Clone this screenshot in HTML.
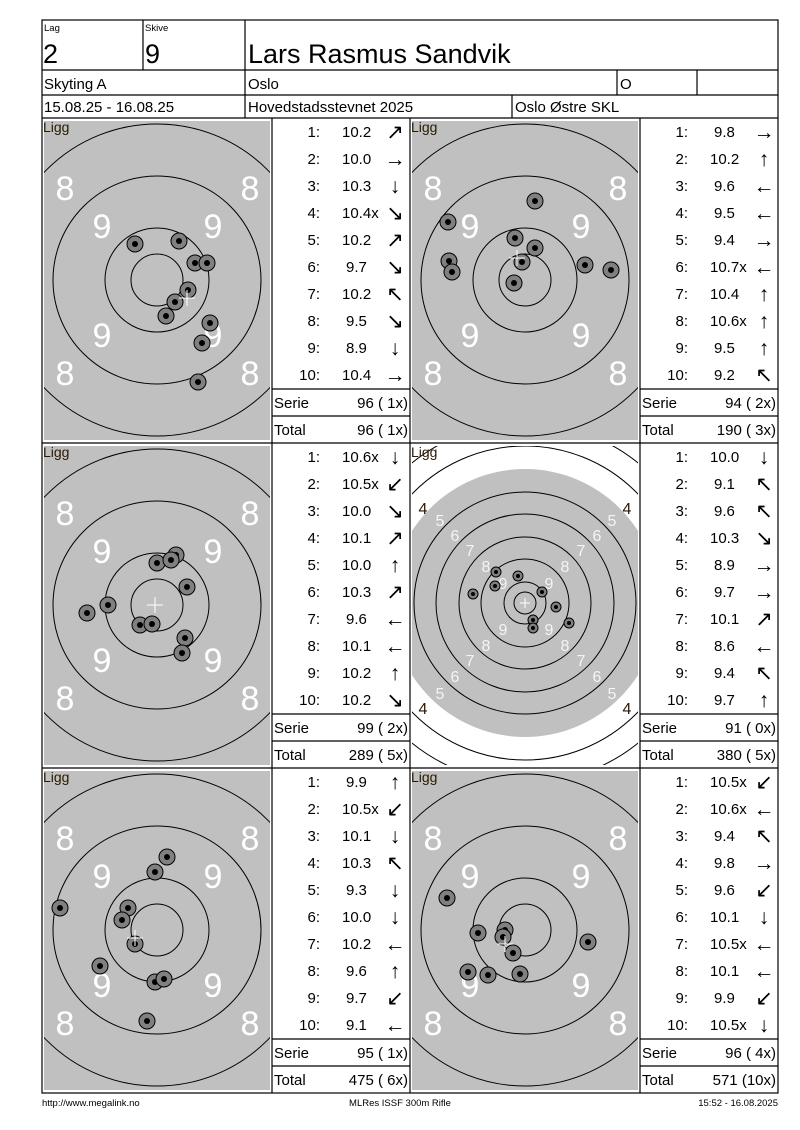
<!DOCTYPE html>
<html><head><meta charset="utf-8"><style>
html,body{margin:0;padding:0;background:#fff}
svg{display:block}
text{font-family:"Liberation Sans",Arial,sans-serif}
.ar{font-family:"DejaVu Sans",sans-serif;font-size:21px}
</style></head><body>
<svg width="800" height="1130" viewBox="0 0 800 1130" xmlns="http://www.w3.org/2000/svg">
<defs>
<clipPath id="cs"><rect x="2" y="3" width="226" height="319"/></clipPath>
<g id="shot"><circle r="8" fill="#808080" stroke="#000" stroke-width="1"/><circle r="3" fill="#000"/></g>
<g id="sshot"><circle r="5" fill="#808080" stroke="#000" stroke-width="1"/><circle r="2" fill="#000"/></g>
</defs>

<!-- header -->
<g stroke="#000" stroke-width="1.2" fill="none">
<rect x="42" y="20" width="736" height="1073"/>
<line x1="42" y1="70" x2="778" y2="70"/>
<line x1="42" y1="95" x2="778" y2="95"/>
<line x1="42" y1="118" x2="778" y2="118"/>
<line x1="143" y1="20" x2="143" y2="70"/>
<line x1="245" y1="20" x2="245" y2="118"/>
<line x1="617" y1="70" x2="617" y2="95"/>
<line x1="697" y1="70" x2="697" y2="95"/>
<line x1="512" y1="95" x2="512" y2="118"/>
<line x1="42" y1="443" x2="778" y2="443"/>
<line x1="42" y1="768" x2="778" y2="768"/>
<line x1="272" y1="118" x2="272" y2="1093"/>
<line x1="410" y1="118" x2="410" y2="1093"/>
<line x1="640" y1="118" x2="640" y2="1093"/>
</g>
<g font-size="9.5"><text x="44" y="31">Lag</text><text x="145" y="31">Skive</text></g>
<g font-size="27"><text x="43" y="63">2</text><text x="145" y="63">9</text><text x="248" y="63">Lars Rasmus Sandvik</text></g>
<g font-size="15"><text x="44" y="89">Skyting A</text><text x="248" y="89">Oslo</text><text x="620" y="89">O</text>
<text x="44" y="112">15.08.25 - 16.08.25</text><text x="248" y="112">Hovedstadsstevnet 2025</text><text x="515" y="112">Oslo Østre SKL</text></g>

<!-- Standard target panels -->
<g transform="translate(42,118)">
<rect x="2" y="3" width="226" height="319" fill="#c0c0c0"/>
<g clip-path="url(#cs)" fill="none" stroke="#000"><circle cx="115" cy="162" r="26"/><circle cx="115" cy="162" r="52"/><circle cx="115" cy="162" r="104"/><circle cx="115" cy="162" r="156"/></g>
<g fill="#fff" font-size="34" text-anchor="middle"><text x="23" y="82">8</text><text x="208" y="82">8</text><text x="60" y="120">9</text><text x="171" y="120">9</text><text x="60" y="229">9</text><text x="171" y="229">9</text><text x="23" y="267">8</text><text x="208" y="267">8</text></g>
<text x="1" y="14" font-size="14" fill="#2a1a00">Ligg</text>
</g>
<g transform="translate(410,118)">
<rect x="2" y="3" width="226" height="319" fill="#c0c0c0"/>
<g clip-path="url(#cs)" fill="none" stroke="#000"><circle cx="115" cy="162" r="26"/><circle cx="115" cy="162" r="52"/><circle cx="115" cy="162" r="104"/><circle cx="115" cy="162" r="156"/></g>
<g fill="#fff" font-size="34" text-anchor="middle"><text x="23" y="82">8</text><text x="208" y="82">8</text><text x="60" y="120">9</text><text x="171" y="120">9</text><text x="60" y="229">9</text><text x="171" y="229">9</text><text x="23" y="267">8</text><text x="208" y="267">8</text></g>
<text x="1" y="14" font-size="14" fill="#2a1a00">Ligg</text>
</g>
<g transform="translate(42,443)">
<rect x="2" y="3" width="226" height="319" fill="#c0c0c0"/>
<g clip-path="url(#cs)" fill="none" stroke="#000"><circle cx="115" cy="162" r="26"/><circle cx="115" cy="162" r="52"/><circle cx="115" cy="162" r="104"/><circle cx="115" cy="162" r="156"/></g>
<g fill="#fff" font-size="34" text-anchor="middle"><text x="23" y="82">8</text><text x="208" y="82">8</text><text x="60" y="120">9</text><text x="171" y="120">9</text><text x="60" y="229">9</text><text x="171" y="229">9</text><text x="23" y="267">8</text><text x="208" y="267">8</text></g>
<text x="1" y="14" font-size="14" fill="#2a1a00">Ligg</text>
</g>
<g transform="translate(42,768)">
<rect x="2" y="3" width="226" height="319" fill="#c0c0c0"/>
<g clip-path="url(#cs)" fill="none" stroke="#000"><circle cx="115" cy="162" r="26"/><circle cx="115" cy="162" r="52"/><circle cx="115" cy="162" r="104"/><circle cx="115" cy="162" r="156"/></g>
<g fill="#fff" font-size="34" text-anchor="middle"><text x="23" y="82">8</text><text x="208" y="82">8</text><text x="60" y="120">9</text><text x="171" y="120">9</text><text x="60" y="229">9</text><text x="171" y="229">9</text><text x="23" y="267">8</text><text x="208" y="267">8</text></g>
<text x="1" y="14" font-size="14" fill="#2a1a00">Ligg</text>
</g>
<g transform="translate(410,768)">
<rect x="2" y="3" width="226" height="319" fill="#c0c0c0"/>
<g clip-path="url(#cs)" fill="none" stroke="#000"><circle cx="115" cy="162" r="26"/><circle cx="115" cy="162" r="52"/><circle cx="115" cy="162" r="104"/><circle cx="115" cy="162" r="156"/></g>
<g fill="#fff" font-size="34" text-anchor="middle"><text x="23" y="82">8</text><text x="208" y="82">8</text><text x="60" y="120">9</text><text x="171" y="120">9</text><text x="60" y="229">9</text><text x="171" y="229">9</text><text x="23" y="267">8</text><text x="208" y="267">8</text></g>
<text x="1" y="14" font-size="14" fill="#2a1a00">Ligg</text>
</g>

<!-- Full target panel -->
<g transform="translate(410,443)">
<rect x="2" y="3" width="226" height="319" fill="#fff"/>
<g clip-path="url(#cs)">
<circle cx="115" cy="160" r="134" fill="#c0c0c0"/>
<g fill="none" stroke="#000"><circle cx="115" cy="160" r="11"/><circle cx="115" cy="160" r="21"/><circle cx="115" cy="160" r="44"/><circle cx="115" cy="160" r="66"/><circle cx="115" cy="160" r="89"/><circle cx="115" cy="160" r="111"/><circle cx="115" cy="160" r="157"/><circle cx="115" cy="160" r="180"/></g>
</g>
<g fill="#f4f4f4" font-size="16" text-anchor="middle">
<text x="30" y="83">5</text><text x="45" y="98">6</text><text x="60" y="113">7</text><text x="76" y="129">8</text><text x="93" y="146">9</text>
<text x="202" y="83">5</text><text x="187" y="98">6</text><text x="171" y="113">7</text><text x="155" y="129">8</text><text x="139" y="146">9</text>
<text x="93" y="192">9</text><text x="76" y="208">8</text><text x="60" y="223">7</text><text x="45" y="239">6</text><text x="30" y="256">5</text>
<text x="139" y="192">9</text><text x="155" y="208">8</text><text x="171" y="223">7</text><text x="187" y="239">6</text><text x="202" y="256">5</text>
</g>
<g fill="#2a1a00" font-size="16" text-anchor="middle"><text x="13" y="71">4</text><text x="217" y="71">4</text><text x="13" y="271">4</text><text x="217" y="271">4</text></g>
<text x="1" y="14" font-size="14" fill="#2a1a00">Ligg</text>
<g stroke="#fff"><line x1="110" y1="160" x2="120" y2="160"/><line x1="115" y1="155" x2="115" y2="165"/></g>
</g>

<!-- shots -->
<g>
<use href="#shot" x="135" y="244"/><use href="#shot" x="179" y="241"/><use href="#shot" x="195" y="263"/><use href="#shot" x="207" y="263"/><use href="#shot" x="188" y="290"/><use href="#shot" x="175" y="302"/><use href="#shot" x="166" y="316"/><use href="#shot" x="210" y="323"/><use href="#shot" x="202" y="343"/><use href="#shot" x="198" y="382"/>
<use href="#shot" x="535" y="201"/><use href="#shot" x="448" y="222"/><use href="#shot" x="515" y="238"/><use href="#shot" x="535" y="248"/><use href="#shot" x="449" y="261"/><use href="#shot" x="452" y="272"/><use href="#shot" x="522" y="262"/><use href="#shot" x="585" y="265"/><use href="#shot" x="611" y="270"/><use href="#shot" x="514" y="283"/>
<use href="#shot" x="176" y="555"/><use href="#shot" x="157" y="563"/><use href="#shot" x="171" y="560"/><use href="#shot" x="187" y="587"/><use href="#shot" x="108" y="605"/><use href="#shot" x="87" y="613"/><use href="#shot" x="140" y="625"/><use href="#shot" x="152" y="624"/><use href="#shot" x="185" y="638"/><use href="#shot" x="182" y="653"/>
<use href="#sshot" x="496" y="572"/><use href="#sshot" x="518" y="576"/><use href="#sshot" x="495" y="586"/><use href="#sshot" x="473" y="594"/><use href="#sshot" x="542" y="592"/><use href="#sshot" x="556" y="607"/><use href="#sshot" x="569" y="623"/><use href="#sshot" x="533" y="620"/><use href="#sshot" x="533" y="628"/>
<use href="#shot" x="167" y="857"/><use href="#shot" x="155" y="872"/><use href="#shot" x="60" y="908"/><use href="#shot" x="128" y="908"/><use href="#shot" x="122" y="920"/><use href="#shot" x="135" y="944"/><use href="#shot" x="100" y="966"/><use href="#shot" x="155" y="982"/><use href="#shot" x="164" y="979"/><use href="#shot" x="147" y="1021"/>
<use href="#shot" x="447" y="898"/><use href="#shot" x="505" y="930"/><use href="#shot" x="478" y="933"/><use href="#shot" x="503" y="937"/><use href="#shot" x="513" y="953"/><use href="#shot" x="588" y="942"/><use href="#shot" x="468" y="972"/><use href="#shot" x="488" y="975"/><use href="#shot" x="520" y="974"/>
</g>
<g stroke="#fff" stroke-width="1">
<line x1="179" y1="298" x2="195" y2="298"/><line x1="187" y1="290" x2="187" y2="306"/>
<line x1="509" y1="258" x2="525" y2="258"/><line x1="517" y1="250" x2="517" y2="266"/>
<line x1="147" y1="605" x2="163" y2="605"/><line x1="155" y1="597" x2="155" y2="613"/>
<line x1="127" y1="938" x2="143" y2="938"/><line x1="135" y1="930" x2="135" y2="946"/>
<line x1="497" y1="944" x2="513" y2="944"/><line x1="505" y1="936" x2="505" y2="952"/>
</g>

<!-- tables: lines -->
<g stroke="#000" stroke-width="1.2">
<line x1="272" y1="389" x2="410" y2="389"/><line x1="272" y1="416" x2="410" y2="416"/>
<line x1="640" y1="389" x2="778" y2="389"/><line x1="640" y1="416" x2="778" y2="416"/>
<line x1="272" y1="714" x2="410" y2="714"/><line x1="272" y1="741" x2="410" y2="741"/>
<line x1="640" y1="714" x2="778" y2="714"/><line x1="640" y1="741" x2="778" y2="741"/>
<line x1="272" y1="1039" x2="410" y2="1039"/><line x1="272" y1="1066" x2="410" y2="1066"/>
<line x1="640" y1="1039" x2="778" y2="1039"/><line x1="640" y1="1066" x2="778" y2="1066"/>
</g>

<!-- Table 1 -->
<g font-size="15" transform="translate(272,118)">
<g text-anchor="end"><text x="48" y="19">1:</text><text x="48" y="46">2:</text><text x="48" y="73">3:</text><text x="48" y="100">4:</text><text x="48" y="127">5:</text><text x="48" y="154">6:</text><text x="48" y="181">7:</text><text x="48" y="208">8:</text><text x="48" y="235">9:</text><text x="48" y="262">10:</text></g>
<text x="70" y="19">10.2</text><text x="70" y="46">10.0</text><text x="70" y="73">10.3</text><text x="70" y="100">10.4x</text><text x="70" y="127">10.2</text><text x="74" y="154">9.7</text><text x="70" y="181">10.2</text><text x="74" y="208">9.5</text><text x="74" y="235">8.9</text><text x="70" y="262">10.4</text>
<g class="ar" text-anchor="middle"><text x="123" y="21">↗</text><text x="123" y="48">→</text><text x="123" y="75">↓</text><text x="123" y="102">↘</text><text x="123" y="129">↗</text><text x="123" y="156">↘</text><text x="123" y="183">↖</text><text x="123" y="210">↘</text><text x="123" y="237">↓</text><text x="123" y="264">→</text></g>
<text x="2" y="290">Serie</text><text x="2" y="317">Total</text>
<g text-anchor="end"><text x="136" y="290">96 ( 1x)</text><text x="136" y="317">96 ( 1x)</text></g>
</g>
<!-- Table 2 -->
<g font-size="15" transform="translate(640,118)">
<g text-anchor="end"><text x="48" y="19">1:</text><text x="48" y="46">2:</text><text x="48" y="73">3:</text><text x="48" y="100">4:</text><text x="48" y="127">5:</text><text x="48" y="154">6:</text><text x="48" y="181">7:</text><text x="48" y="208">8:</text><text x="48" y="235">9:</text><text x="48" y="262">10:</text></g>
<text x="74" y="19">9.8</text><text x="70" y="46">10.2</text><text x="74" y="73">9.6</text><text x="74" y="100">9.5</text><text x="74" y="127">9.4</text><text x="70" y="154">10.7x</text><text x="70" y="181">10.4</text><text x="70" y="208">10.6x</text><text x="74" y="235">9.5</text><text x="74" y="262">9.2</text>
<g class="ar" text-anchor="middle"><text x="124" y="21">→</text><text x="124" y="48">↑</text><text x="124" y="75">←</text><text x="124" y="102">←</text><text x="124" y="129">→</text><text x="124" y="156">←</text><text x="124" y="183">↑</text><text x="124" y="210">↑</text><text x="124" y="237">↑</text><text x="124" y="264">↖</text></g>
<text x="2" y="290">Serie</text><text x="2" y="317">Total</text>
<g text-anchor="end"><text x="136" y="290">94 ( 2x)</text><text x="136" y="317">190 ( 3x)</text></g>
</g>
<!-- Table 3 -->
<g font-size="15" transform="translate(272,443)">
<g text-anchor="end"><text x="48" y="19">1:</text><text x="48" y="46">2:</text><text x="48" y="73">3:</text><text x="48" y="100">4:</text><text x="48" y="127">5:</text><text x="48" y="154">6:</text><text x="48" y="181">7:</text><text x="48" y="208">8:</text><text x="48" y="235">9:</text><text x="48" y="262">10:</text></g>
<text x="70" y="19">10.6x</text><text x="70" y="46">10.5x</text><text x="70" y="73">10.0</text><text x="70" y="100">10.1</text><text x="70" y="127">10.0</text><text x="70" y="154">10.3</text><text x="74" y="181">9.6</text><text x="70" y="208">10.1</text><text x="70" y="235">10.2</text><text x="70" y="262">10.2</text>
<g class="ar" text-anchor="middle"><text x="123" y="21">↓</text><text x="123" y="48">↙</text><text x="123" y="75">↘</text><text x="123" y="102">↗</text><text x="123" y="129">↑</text><text x="123" y="156">↗</text><text x="123" y="183">←</text><text x="123" y="210">←</text><text x="123" y="237">↑</text><text x="123" y="264">↘</text></g>
<text x="2" y="290">Serie</text><text x="2" y="317">Total</text>
<g text-anchor="end"><text x="136" y="290">99 ( 2x)</text><text x="136" y="317">289 ( 5x)</text></g>
</g>
<!-- Table 4 -->
<g font-size="15" transform="translate(640,443)">
<g text-anchor="end"><text x="48" y="19">1:</text><text x="48" y="46">2:</text><text x="48" y="73">3:</text><text x="48" y="100">4:</text><text x="48" y="127">5:</text><text x="48" y="154">6:</text><text x="48" y="181">7:</text><text x="48" y="208">8:</text><text x="48" y="235">9:</text><text x="48" y="262">10:</text></g>
<text x="70" y="19">10.0</text><text x="74" y="46">9.1</text><text x="74" y="73">9.6</text><text x="70" y="100">10.3</text><text x="74" y="127">8.9</text><text x="74" y="154">9.7</text><text x="70" y="181">10.1</text><text x="74" y="208">8.6</text><text x="74" y="235">9.4</text><text x="74" y="262">9.7</text>
<g class="ar" text-anchor="middle"><text x="124" y="21">↓</text><text x="124" y="48">↖</text><text x="124" y="75">↖</text><text x="124" y="102">↘</text><text x="124" y="129">→</text><text x="124" y="156">→</text><text x="124" y="183">↗</text><text x="124" y="210">←</text><text x="124" y="237">↖</text><text x="124" y="264">↑</text></g>
<text x="2" y="290">Serie</text><text x="2" y="317">Total</text>
<g text-anchor="end"><text x="136" y="290">91 ( 0x)</text><text x="136" y="317">380 ( 5x)</text></g>
</g>
<!-- Table 5 -->
<g font-size="15" transform="translate(272,768)">
<g text-anchor="end"><text x="48" y="19">1:</text><text x="48" y="46">2:</text><text x="48" y="73">3:</text><text x="48" y="100">4:</text><text x="48" y="127">5:</text><text x="48" y="154">6:</text><text x="48" y="181">7:</text><text x="48" y="208">8:</text><text x="48" y="235">9:</text><text x="48" y="262">10:</text></g>
<text x="74" y="19">9.9</text><text x="70" y="46">10.5x</text><text x="70" y="73">10.1</text><text x="70" y="100">10.3</text><text x="74" y="127">9.3</text><text x="70" y="154">10.0</text><text x="70" y="181">10.2</text><text x="74" y="208">9.6</text><text x="74" y="235">9.7</text><text x="74" y="262">9.1</text>
<g class="ar" text-anchor="middle"><text x="123" y="21">↑</text><text x="123" y="48">↙</text><text x="123" y="75">↓</text><text x="123" y="102">↖</text><text x="123" y="129">↓</text><text x="123" y="156">↓</text><text x="123" y="183">←</text><text x="123" y="210">↑</text><text x="123" y="237">↙</text><text x="123" y="264">←</text></g>
<text x="2" y="290">Serie</text><text x="2" y="317">Total</text>
<g text-anchor="end"><text x="136" y="290">95 ( 1x)</text><text x="136" y="317">475 ( 6x)</text></g>
</g>
<!-- Table 6 -->
<g font-size="15" transform="translate(640,768)">
<g text-anchor="end"><text x="48" y="19">1:</text><text x="48" y="46">2:</text><text x="48" y="73">3:</text><text x="48" y="100">4:</text><text x="48" y="127">5:</text><text x="48" y="154">6:</text><text x="48" y="181">7:</text><text x="48" y="208">8:</text><text x="48" y="235">9:</text><text x="48" y="262">10:</text></g>
<text x="70" y="19">10.5x</text><text x="70" y="46">10.6x</text><text x="74" y="73">9.4</text><text x="74" y="100">9.8</text><text x="74" y="127">9.6</text><text x="70" y="154">10.1</text><text x="70" y="181">10.5x</text><text x="70" y="208">10.1</text><text x="74" y="235">9.9</text><text x="70" y="262">10.5x</text>
<g class="ar" text-anchor="middle"><text x="124" y="21">↙</text><text x="124" y="48">←</text><text x="124" y="75">↖</text><text x="124" y="102">→</text><text x="124" y="129">↙</text><text x="124" y="156">↓</text><text x="124" y="183">←</text><text x="124" y="210">←</text><text x="124" y="237">↙</text><text x="124" y="264">↓</text></g>
<text x="2" y="290">Serie</text><text x="2" y="317">Total</text>
<g text-anchor="end"><text x="136" y="290">96 ( 4x)</text><text x="136" y="317">571 (10x)</text></g>
</g>

<!-- footer -->
<g font-size="9.5">
<text x="42" y="1106">http://www.megalink.no</text>
<text x="400" y="1106" text-anchor="middle">MLRes ISSF 300m Rifle</text>
<text x="778" y="1106" text-anchor="end">15:52 - 16.08.2025</text>
</g>
</svg>
</body></html>
